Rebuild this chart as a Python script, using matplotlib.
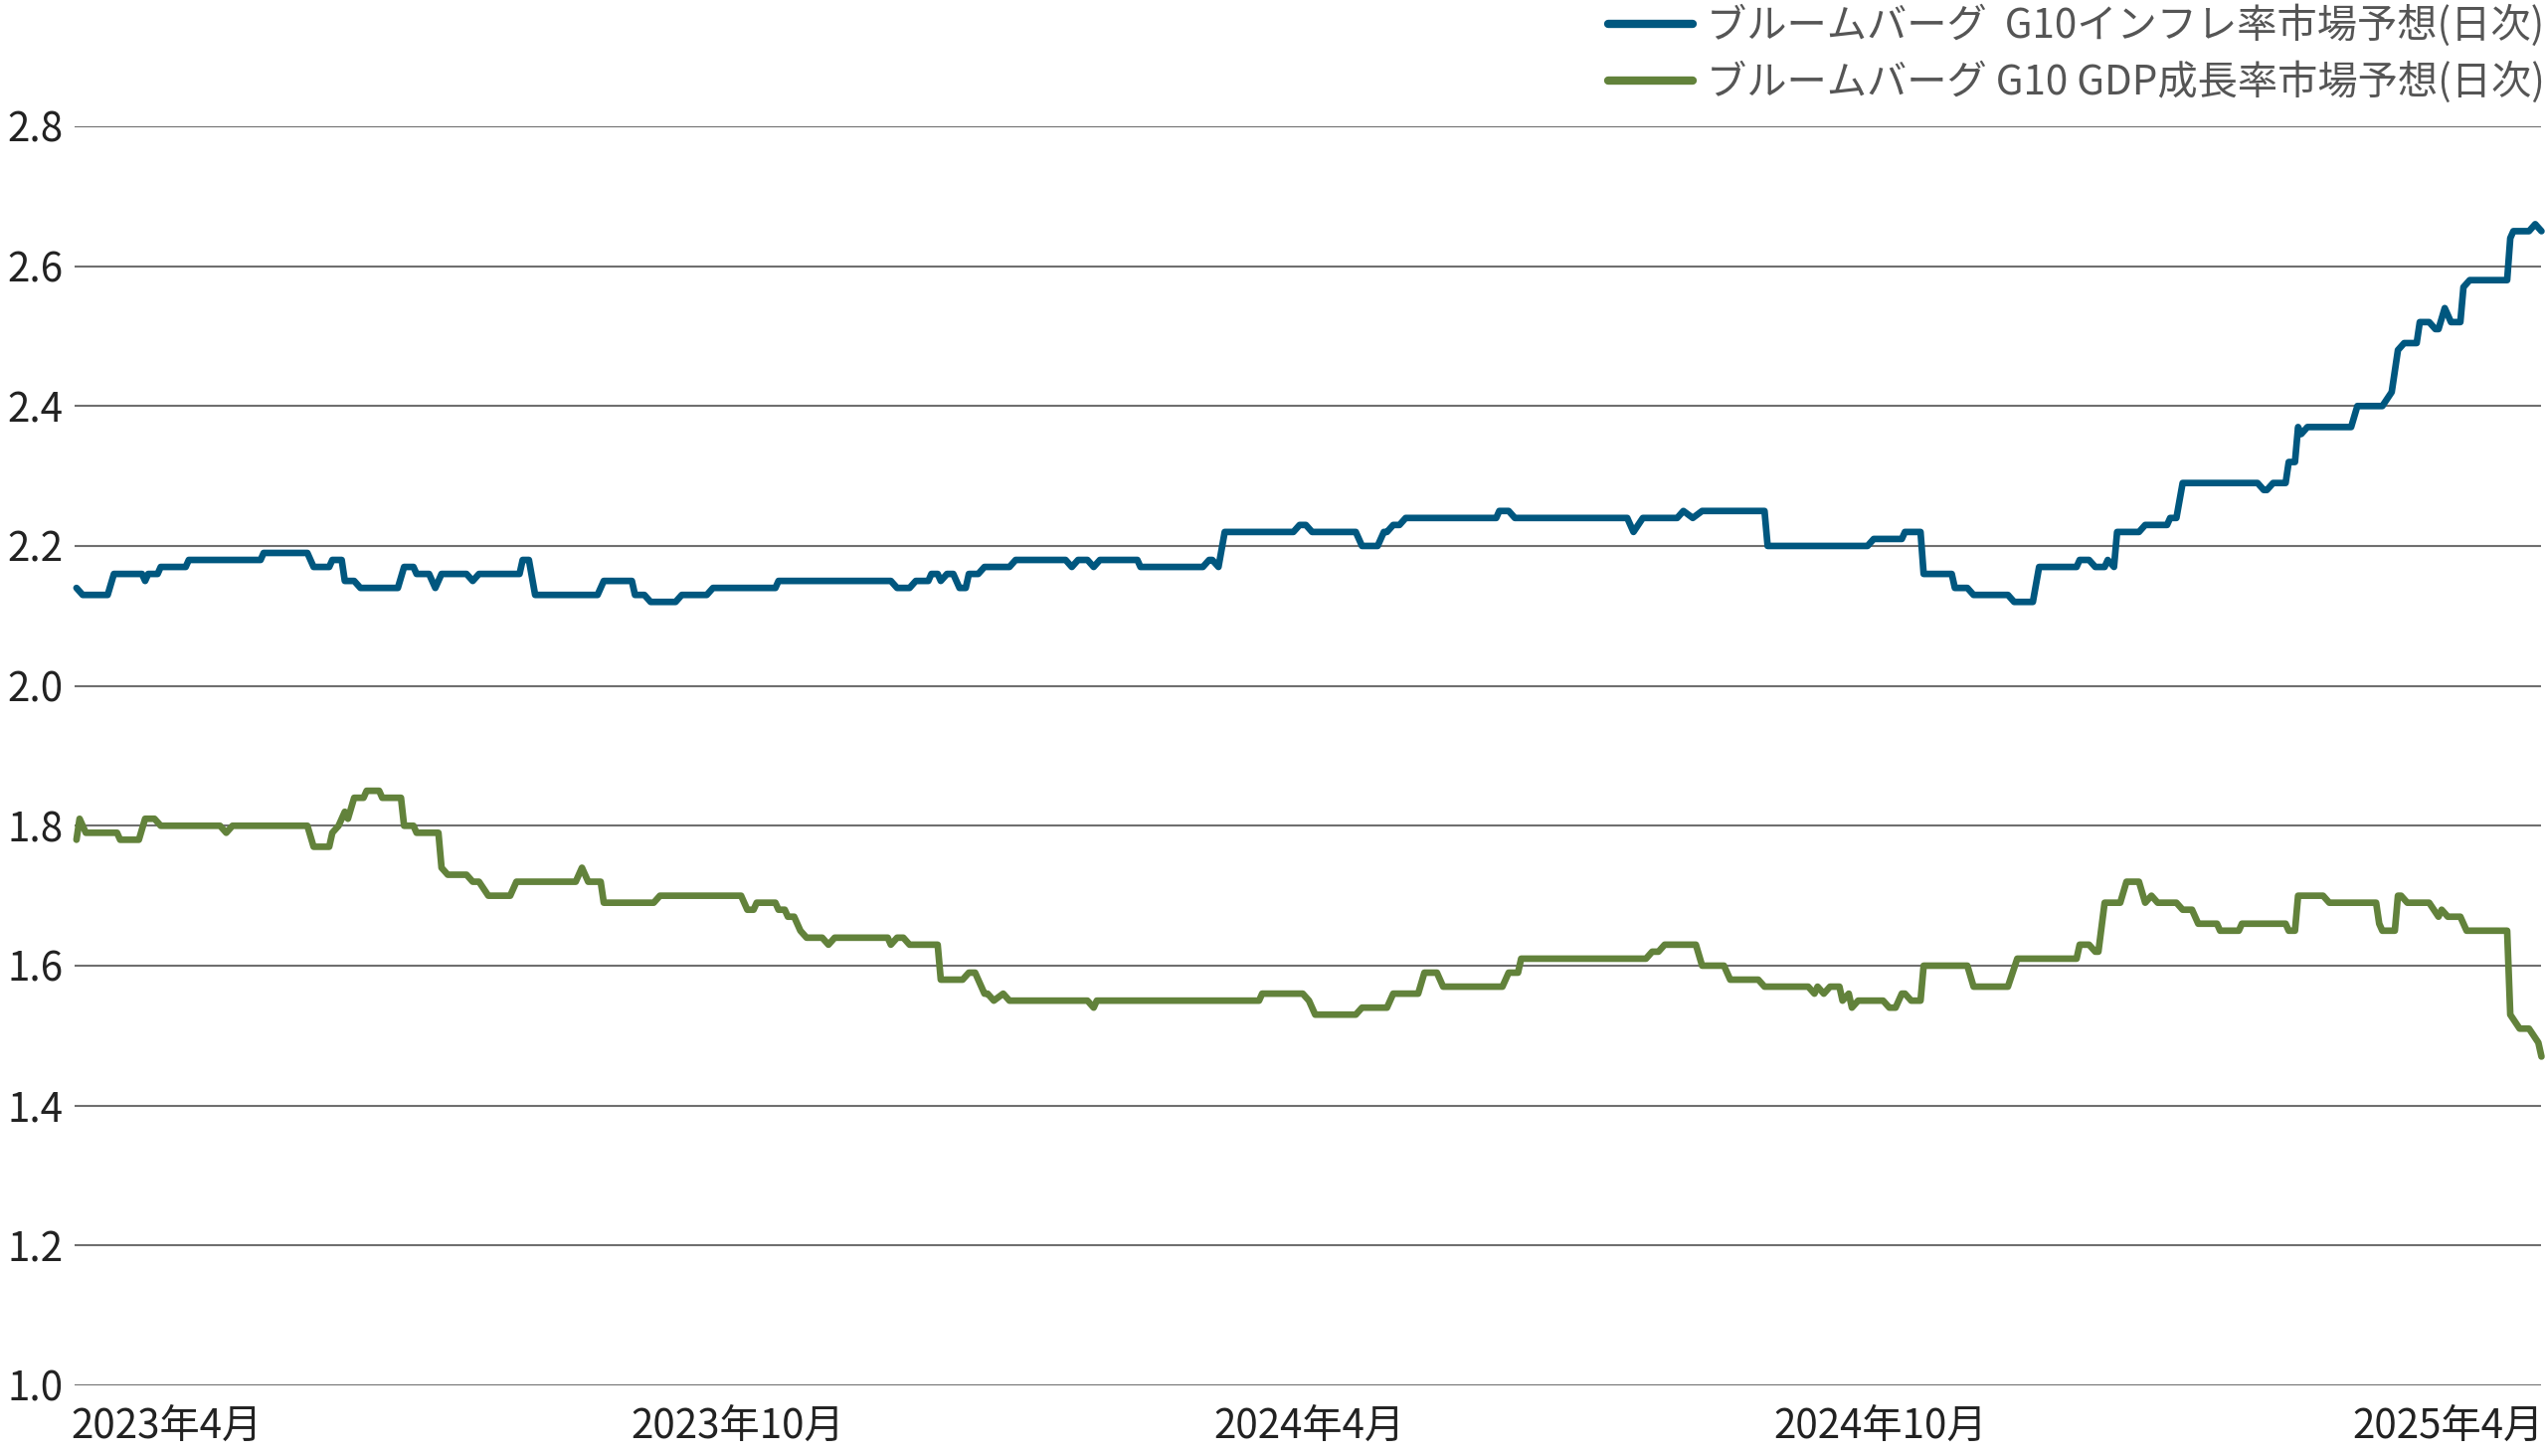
import matplotlib
matplotlib.use("Agg")
import matplotlib.pyplot as plt
import pandas as pd

plt.rcParams["font.family"] = ["Noto Sans CJK JP", "DejaVu Sans"]

# x values are days counted from 2023-04-01
base_date = pd.Timestamp("2023-04-01")

infl_days = [-29, -27, -19, -17, -8, -7, -6, -3, -2, 6, 7, 30, 31, 45, 47, 52, 53, 56, 57, 60,
             62, 74, 76, 79, 80, 84, 86, 88, 96, 98, 100, 113, 114, 116, 118, 138, 140, 149, 150, 153,
             155, 163, 165, 173, 175, 195, 196, 232, 234, 238, 240, 244, 245, 247, 248, 250, 252, 254, 256, 257,
             260, 262, 270, 272, 288, 290, 292, 295, 297, 299, 311, 312, 332, 334, 335, 337, 339, 361, 363, 365,
             367, 381, 383, 388, 390, 391, 393, 395, 397, 426, 427, 430, 432, 468, 470, 473, 484, 486, 489, 492,
             512, 513, 545, 547, 556, 557, 562, 563, 572, 573, 577, 579, 590, 592, 598, 600, 612, 613, 616, 618,
             621, 622, 624, 625, 632, 634, 641, 642, 644, 646, 670, 672, 673, 675, 679, 680, 682, 683, 684, 686,
             700, 702, 710, 713, 715, 717, 721, 722, 725, 727, 728, 730, 732, 735, 736, 738, 750, 751, 752, 757,
             759, 761]
infl_vals = [2.14, 2.13, 2.13, 2.16, 2.16, 2.15, 2.16, 2.16, 2.17, 2.17, 2.18, 2.18, 2.19, 2.19, 2.17, 2.17, 2.18, 2.18, 2.15, 2.15,
             2.14, 2.14, 2.17, 2.17, 2.16, 2.16, 2.14, 2.16, 2.16, 2.15, 2.16, 2.16, 2.18, 2.18, 2.13, 2.13, 2.15, 2.15, 2.13, 2.13,
             2.12, 2.12, 2.13, 2.13, 2.14, 2.14, 2.15, 2.15, 2.14, 2.14, 2.15, 2.15, 2.16, 2.16, 2.15, 2.16, 2.16, 2.14, 2.14, 2.16,
             2.16, 2.17, 2.17, 2.18, 2.18, 2.17, 2.18, 2.18, 2.17, 2.18, 2.18, 2.17, 2.17, 2.18, 2.18, 2.17, 2.22, 2.22, 2.23, 2.23,
             2.22, 2.22, 2.20, 2.20, 2.22, 2.22, 2.23, 2.23, 2.24, 2.24, 2.25, 2.25, 2.24, 2.24, 2.22, 2.24, 2.24, 2.25, 2.24, 2.25,
             2.25, 2.20, 2.20, 2.21, 2.21, 2.22, 2.22, 2.16, 2.16, 2.14, 2.14, 2.13, 2.13, 2.12, 2.12, 2.17, 2.17, 2.18, 2.18, 2.17,
             2.17, 2.18, 2.17, 2.22, 2.22, 2.23, 2.23, 2.24, 2.24, 2.29, 2.29, 2.28, 2.28, 2.29, 2.29, 2.32, 2.32, 2.37, 2.36, 2.37,
             2.37, 2.40, 2.40, 2.42, 2.48, 2.49, 2.49, 2.52, 2.52, 2.51, 2.51, 2.54, 2.52, 2.52, 2.57, 2.58, 2.58, 2.64, 2.65, 2.65,
             2.66, 2.65]

gdp_days = [-29, -28, -26, -16, -15, -9, -7, -4, -2, 17, 19, 21, 45, 47, 52, 53, 55, 57, 58, 60,
            63, 64, 68, 69, 75, 76, 79, 80, 87, 88, 90, 96, 98, 100, 103, 110, 112, 131, 133, 135,
            139, 140, 156, 158, 184, 186, 188, 189, 195, 196, 198, 199, 201, 203, 205, 210, 212, 214, 231, 232,
            234, 236, 238, 247, 248, 255, 257, 259, 260, 262, 263, 265, 268, 270, 295, 297, 298, 350, 351, 364,
            366, 368, 381, 383, 391, 393, 401, 403, 407, 409, 428, 430, 433, 434, 474, 476, 478, 480, 490, 492,
            499, 501, 510, 512, 526, 528, 529, 531, 533, 536, 537, 539, 540, 542, 550, 552, 554, 556, 557, 559,
            562, 563, 577, 579, 590, 593, 612, 613, 616, 618, 619, 621, 626, 628, 632, 634, 636, 638, 644, 646,
            649, 651, 657, 658, 664, 665, 679, 680, 682, 683, 691, 693, 708, 709, 710, 714, 715, 716, 718, 725,
            728, 729, 731, 735, 737, 750, 751, 754, 757, 760, 761]
gdp_vals = [1.78, 1.81, 1.79, 1.79, 1.78, 1.78, 1.81, 1.81, 1.80, 1.80, 1.79, 1.80, 1.80, 1.77, 1.77, 1.79, 1.80, 1.82, 1.81, 1.84,
            1.84, 1.85, 1.85, 1.84, 1.84, 1.80, 1.80, 1.79, 1.79, 1.74, 1.73, 1.73, 1.72, 1.72, 1.70, 1.70, 1.72, 1.72, 1.74, 1.72,
            1.72, 1.69, 1.69, 1.70, 1.70, 1.68, 1.68, 1.69, 1.69, 1.68, 1.68, 1.67, 1.67, 1.65, 1.64, 1.64, 1.63, 1.64, 1.64, 1.63,
            1.64, 1.64, 1.63, 1.63, 1.58, 1.58, 1.59, 1.59, 1.58, 1.56, 1.56, 1.55, 1.56, 1.55, 1.55, 1.54, 1.55, 1.55, 1.56, 1.56,
            1.55, 1.53, 1.53, 1.54, 1.54, 1.56, 1.56, 1.59, 1.59, 1.57, 1.57, 1.59, 1.59, 1.61, 1.61, 1.62, 1.62, 1.63, 1.63, 1.60,
            1.60, 1.58, 1.58, 1.57, 1.57, 1.56, 1.57, 1.56, 1.57, 1.57, 1.55, 1.56, 1.54, 1.55, 1.55, 1.54, 1.54, 1.56, 1.56, 1.55,
            1.55, 1.60, 1.60, 1.57, 1.57, 1.61, 1.61, 1.63, 1.63, 1.62, 1.62, 1.69, 1.69, 1.72, 1.72, 1.69, 1.70, 1.69, 1.69, 1.68,
            1.68, 1.66, 1.66, 1.65, 1.65, 1.66, 1.66, 1.65, 1.65, 1.70, 1.70, 1.69, 1.69, 1.66, 1.65, 1.65, 1.70, 1.70, 1.69, 1.69,
            1.67, 1.68, 1.67, 1.67, 1.65, 1.65, 1.53, 1.51, 1.51, 1.49, 1.47]

tick_dates = ["2023-04-01", "2023-10-01", "2024-04-01", "2024-10-01", "2025-04-01"]
tick_labels = ["2023年4月", "2023年10月", "2024年4月", "2024年10月", "2025年4月"]
y_ticks = [1.0, 1.2, 1.4, 1.6, 1.8, 2.0, 2.2, 2.4, 2.6, 2.8]

infl_label = "ブルームバーグ  G10インフレ率市場予想(日次)"
gdp_label = "ブルームバーグ G10 GDP成長率市場予想(日次)"

blue = "#00577f"
green = "#62823b"

infl_x = base_date + pd.to_timedelta(infl_days, unit="D")
gdp_x = base_date + pd.to_timedelta(gdp_days, unit="D")

fig = plt.figure(figsize=(25.6, 14.64), dpi=100)
ax = fig.add_axes([0.0293, 0.0485, 0.9688, 0.8648])

ax.plot(infl_x, infl_vals, color=blue, lw=4.8, label=infl_label,
        solid_joinstyle="round", solid_capstyle="round", zorder=3, clip_on=False)
ax.plot(gdp_x, gdp_vals, color=green, lw=4.8, label=gdp_label,
        solid_joinstyle="round", solid_capstyle="round", zorder=3, clip_on=False)

ax.set_ylim(1.0, 2.8)
ax.set_yticks(y_ticks)
ax.set_yticklabels([f"{v:.1f}" for v in y_ticks])
ax.set_xlim(base_date + pd.Timedelta(days=-29.6), base_date + pd.Timedelta(days=760.9))
ax.set_xticks(pd.to_datetime(tick_dates))
ax.set_xticklabels(tick_labels)

ax.grid(axis="y", color="#6f6f6f", lw=1.5)
ax.set_axisbelow(True)
for s in ax.spines.values():
    s.set_visible(False)
ax.tick_params(axis="y", length=0, pad=8, labelsize=29, labelcolor="#222222")
ax.tick_params(axis="x", length=0, pad=15, labelsize=29, labelcolor="#222222")

leg = fig.legend(loc="upper right", bbox_to_anchor=(1.001, 0.9995), frameon=False,
                 fontsize=29, handlelength=2.1, handletextpad=0.35, labelspacing=0.35,
                 borderaxespad=0, borderpad=0.1)
for h in leg.get_lines():
    h.set_linewidth(6)
    h.set_solid_capstyle("round")
for t in leg.get_texts():
    t.set_color("#555555")

fig.savefig("out.png", dpi=100)
